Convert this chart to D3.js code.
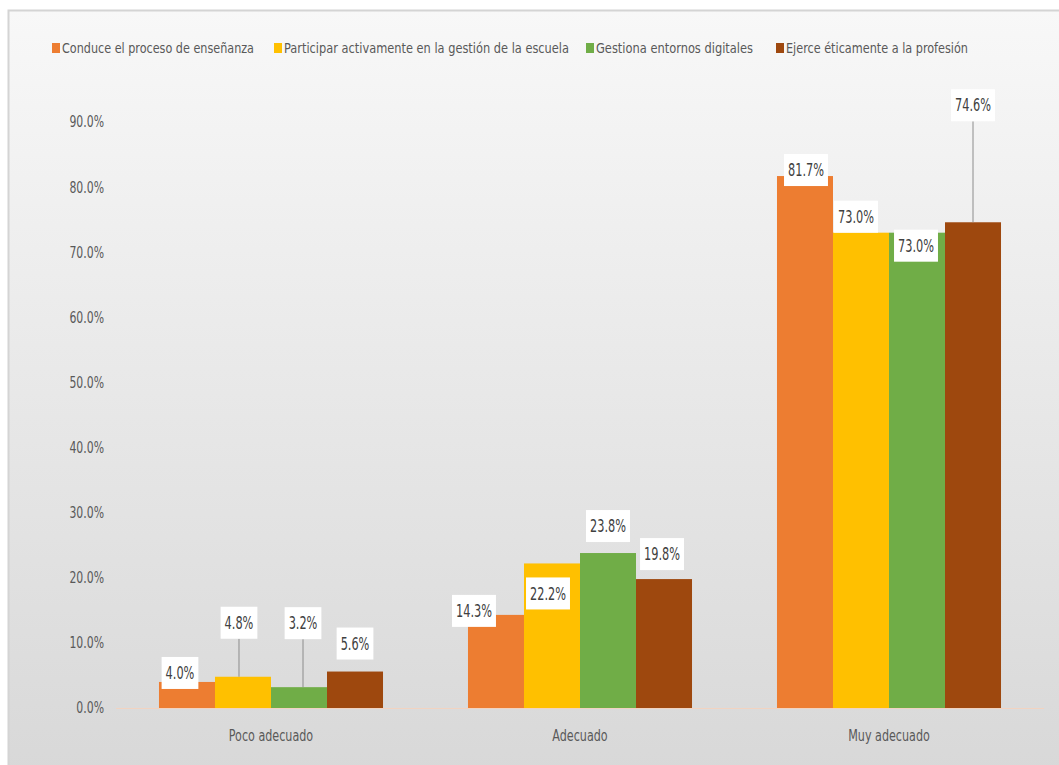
<!DOCTYPE html>
<html>
<head>
<meta charset="utf-8">
<script src="https://cdn.jsdelivr.net/npm/d3@7"></script>
<style>
  body { margin: 0; background: #fff; }
  svg text { font-family: "DejaVu Sans Condensed", "Liberation Sans", sans-serif; }
</style>
</head>
<body>
<div id="chart"></div>
<script>
// data
var categories = ["Poco adecuado", "Adecuado", "Muy adecuado"];
var seriesNames = ["Conduce el proceso de enseñanza", "Participar activamente en la gestión de la escuela", "Gestiona entornos digitales", "Ejerce éticamente a la profesión"];
var conduce = [4.0, 14.3, 81.7];
var participar = [4.8, 22.2, 73.0];
var gestiona = [3.2, 23.8, 73.0];
var ejerce = [5.6, 19.8, 74.6];
var yTicks = [0, 10, 20, 30, 40, 50, 60, 70, 80, 90];

var colors = ["#ED7D31", "#FFC000", "#70AD47", "#9E480E"];

// label placement (offset of label center from bar top center), Excel "best fit" style
var labelOffsets = [
  [[-7, -9], [-22, -4], [1, -6]],
  [[-4, -54], [-4, 30], [-5, -16]],
  [[4, -64], [0, -27], [-1, 13]],
  [[0, -28], [-2, -25], [0, -117]]
];
var leaders = [
  [false, false, false],
  [true, false, false],
  [true, false, false],
  [false, false, true]
];

var width = 1059, height = 765;
var allSeries = [conduce, participar, gestiona, ejerce];

// squeeze text horizontally to look like the narrow office font
function narrow(sel, f) {
  sel.each(function() {
    var w = this.getComputedTextLength();
    d3.select(this).attr("textLength", w * f).attr("lengthAdjust", "spacingAndGlyphs");
  });
}

var svg = d3.select("#chart").append("svg")
    .attr("width", width)
    .attr("height", height);

var defs = svg.append("defs");
var grad = defs.append("linearGradient")
    .attr("id", "bg").attr("x1", 0).attr("y1", 0).attr("x2", 0).attr("y2", 1);
grad.append("stop").attr("offset", "0%").attr("stop-color", "#f8f8f8");
grad.append("stop").attr("offset", "100%").attr("stop-color", "#d8d8d8");

svg.append("rect")
    .attr("x", 8.5).attr("y", 10.5)
    .attr("width", width).attr("height", height)
    .attr("fill", "url(#bg)")
    .attr("stroke", "#d4d4d4")
    .attr("stroke-width", 2);

var x0 = d3.scaleBand()
    .domain(categories)
    .range([116.5, 1043.5])
    .paddingInner(0.275)
    .paddingOuter(0.1375);

var x1 = d3.scaleBand()
    .domain(d3.range(seriesNames.length))
    .range([0, x0.bandwidth()]);

var y = d3.scaleLinear()
    .domain([0, 90])
    .range([708, 122]);

// y axis labels
var yAxis = svg.append("g")
    .attr("transform", "translate(104,0)")
    .call(d3.axisLeft(y).tickValues(yTicks).tickSize(0).tickPadding(0)
      .tickFormat(function(d) { return d.toFixed(1) + "%" }));
yAxis.select(".domain").remove();
yAxis.selectAll("text")
    .attr("fill", "#595959")
    .style("font-size", "15.5px")
    .call(narrow, 0.78);

// baseline
svg.append("line")
    .attr("x1", 116).attr("x2", 1044)
    .attr("y1", y(0) + 0.5).attr("y2", y(0) + 0.5)
    .attr("stroke", "#f2d3c0")
    .attr("stroke-width", 1);

// x axis labels
var xAxis = svg.append("g")
    .attr("transform", "translate(0,730)")
    .call(d3.axisBottom(x0).tickSize(0).tickPadding(0));
xAxis.select(".domain").remove();
xAxis.selectAll("text")
    .attr("fill", "#595959")
    .style("font-size", "15.5px")
    .call(narrow, 0.8);

// bars
allSeries.forEach(function(values, s) {
  svg.selectAll(".bar-" + s)
    .data(values)
    .enter().append("rect")
    .attr("class", "bar-" + s)
    .attr("x", function(d, i) { return x0(categories[i]) + x1(s) })
    .attr("y", function(d) { return y(d) })
    .attr("width", x1.bandwidth())
    .attr("height", function(d) { return y(0) - y(d) })
    .attr("fill", colors[s]);
});

// data labels
allSeries.forEach(function(values, s) {
  values.forEach(function(v, i) {
    var cx = x0(categories[i]) + x1(s) + x1.bandwidth() / 2;
    var top = y(v);
    var lx = cx + labelOffsets[s][i][0];
    var ly = top + labelOffsets[s][i][1];
    var g = svg.append("g").attr("class", "data-label");
    var t = g.append("text")
        .attr("x", lx)
        .attr("y", ly)
        .attr("dy", "0.36em")
        .attr("text-anchor", "middle")
        .attr("fill", "#404040")
        .style("font-size", "17px")
        .text(v.toFixed(1) + "%");
    var tw = t.node().getComputedTextLength() * 0.74;
    t.attr("textLength", tw).attr("lengthAdjust", "spacingAndGlyphs");
    var bw = tw + 8, bh = 32;
    if (leaders[s][i]) {
      g.insert("line", "text")
        .attr("x1", lx).attr("x2", lx)
        .attr("y1", ly + bh / 2).attr("y2", top)
        .attr("stroke", "#8c8c8c")
        .attr("stroke-width", 1);
    }
    g.insert("rect", "text")
        .attr("x", lx - bw / 2)
        .attr("y", ly - bh / 2)
        .attr("width", bw)
        .attr("height", bh)
        .attr("fill", "#ffffff");
  });
});

// legend
var legendX = [52, 274, 586, 776];
var legendW = [192, 285, 157, 182];
var legend = svg.selectAll(".legend")
    .data(seriesNames)
    .enter().append("g")
    .attr("class", "legend")
    .attr("transform", function(d, i) { return "translate(" + legendX[i] + ",48)" });
legend.append("rect")
    .attr("x", 0).attr("y", -5)
    .attr("width", 8).attr("height", 10)
    .attr("fill", function(d, i) { return colors[i] });
legend.append("text")
    .attr("x", 10)
    .attr("y", 0)
    .attr("dy", "0.36em")
    .attr("fill", "#595959")
    .style("font-size", "13.5px")
    .attr("textLength", function(d, i) { return legendW[i] })
    .attr("lengthAdjust", "spacingAndGlyphs")
    .text(function(d) { return d });
</script>
</body>
</html>
